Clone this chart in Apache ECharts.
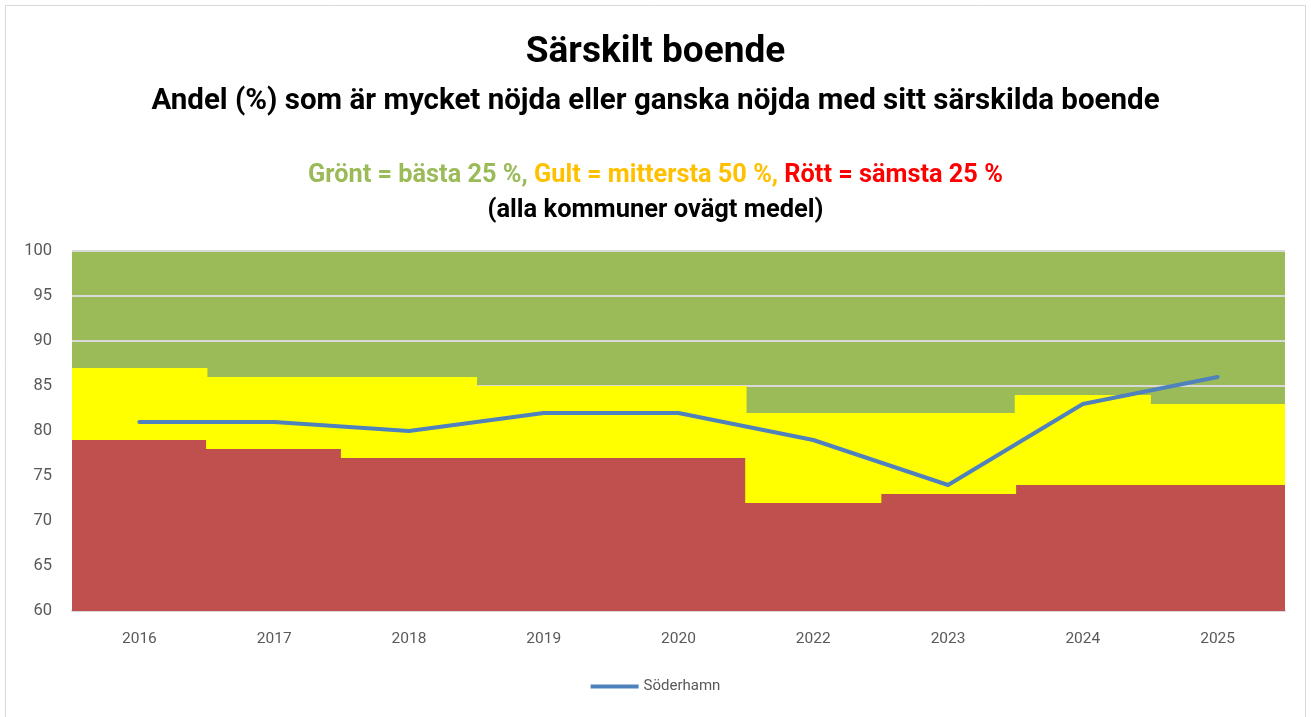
<!DOCTYPE html>
<html>
<head>
<meta charset="utf-8">
<style>
html,body{margin:0;padding:0;background:#fff;}
#c{width:1311px;height:717px;}
</style>
<script src="https://cdn.jsdelivr.net/npm/echarts@6/dist/echarts.min.js"></script>
</head>
<body>
<div id="c"></div>
<script>
const categories = ['2016','2017','2018','2019','2020','2022','2023','2024','2025'];
const lowerQuartile = [79, 78, 77, 77, 77, 72, 73, 74, 74];
const upperQuartile = [87, 86, 86, 85, 85, 82, 82, 84, 83];
const soderhamn = [81, 81, 80, 82, 82, 79, 74, 83, 86];
const yTicks = { min: 60, max: 100, interval: 5 };

const middleBand = upperQuartile.map((u, i) => u - lowerQuartile[i]);
const FONT = 'Roboto, "Open Sans", sans-serif';

const chart = echarts.init(document.getElementById('c'), null, {renderer: 'canvas'});
chart.setOption({
  animation: false,
  backgroundColor: '#fff',
  textStyle: {fontFamily: FONT},
  graphic: [{
    type: 'rect', silent: true, z: -10,
    shape: {x: 5.5, y: 5.5, width: 1300, height: 720},
    style: {fill: 'none', stroke: '#d9d9d9', lineWidth: 1}
  }],
  title: [
    {text: 'Särskilt boende', left: 'center', top: 29,
     textStyle: {fontFamily: FONT, fontSize: 37, fontWeight: 'bold', color: '#000'}},
    {text: 'Andel (%) som är mycket nöjda eller ganska nöjda med sitt särskilda boende', left: 'center', top: 82,
     textStyle: {fontFamily: FONT, fontSize: 29.5, fontWeight: 'bold', color: '#000'}},
    {text: '{g|Grönt = bästa 25 %, }{y|Gult = mittersta 50 %, }{r|Rött = sämsta 25 %}', left: 'center', top: 158,
     textStyle: {rich: {
       g: {fontFamily: FONT, fontSize: 25.3, fontWeight: 'bold', color: '#9BBB59'},
       y: {fontFamily: FONT, fontSize: 25.3, fontWeight: 'bold', color: '#FFC000'},
       r: {fontFamily: FONT, fontSize: 25.3, fontWeight: 'bold', color: '#FF0000'}
     }}},
    {text: '(alla kommuner ovägt medel)', left: 'center', top: 193,
     textStyle: {fontFamily: FONT, fontSize: 25.5, fontWeight: 'bold', color: '#000'}}
  ],
  legend: {
    data: [{name: 'Söderhamn', icon: 'rect'}],
    bottom: 18, left: 'center',
    itemWidth: 48, itemHeight: 4, itemGap: 4,
    textStyle: {fontFamily: FONT, fontSize: 15, color: '#595959'}
  },
  grid: {left: 72, right: 26, top: 251, bottom: 106, show: true, backgroundColor: '#9BBB59', borderWidth: 0},
  xAxis: {
    type: 'category', data: categories,
    axisLine: {show: true, lineStyle: {color: '#d9d9d9', width: 2}},
    axisTick: {show: false},
    splitLine: {show: false},
    splitArea: {show: false},
    axisLabel: {fontFamily: FONT, fontSize: 15.5, color: '#595959', margin: 20}
  },
  yAxis: {
    type: 'value', min: yTicks.min, max: yTicks.max, interval: yTicks.interval,
    axisLine: {show: false}, axisTick: {show: false},
    axisLabel: {fontFamily: FONT, fontSize: 16.5, color: '#595959', margin: 20},
    splitLine: {show: true, lineStyle: {color: '#d9d9d9', width: 2}}
  },
  series: [
    {name: 'Rött', type: 'bar', stack: 'band', data: lowerQuartile, barCategoryGap: '0%', barWidth: '101%',
     itemStyle: {color: '#C0504D'}, silent: true},
    {name: 'Gult', type: 'bar', stack: 'band', data: middleBand, barCategoryGap: '0%', barWidth: '101%',
     itemStyle: {color: '#FFFF00'}, silent: true},
    {name: 'Söderhamn', type: 'line', data: soderhamn, symbol: 'none', smooth: false,
     lineStyle: {color: '#4F81BD', width: 4, cap: 'round'}, itemStyle: {color: '#4F81BD'}, z: 5}
  ]
});
</script>
</body>
</html>
